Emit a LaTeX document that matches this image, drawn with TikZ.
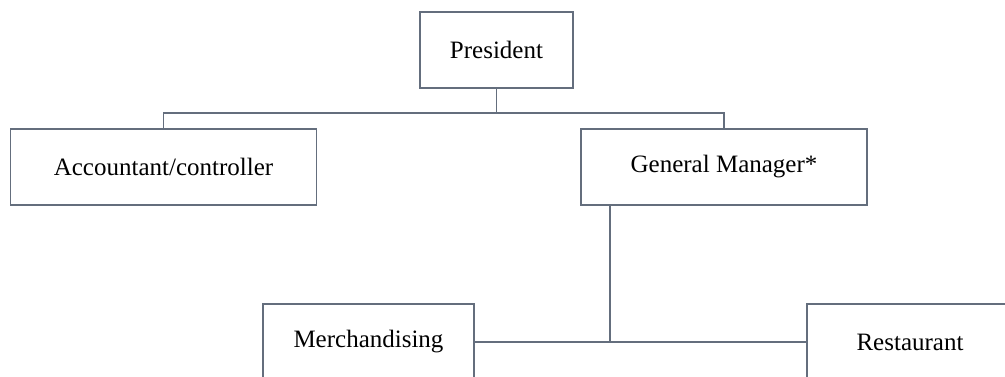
\documentclass[tikz,border=0pt]{standalone}
\usepackage{fontspec}
\setmainfont{Liberation Serif}
\definecolor{linec}{RGB}{100,110,125}
\begin{document}
\begin{tikzpicture}[x=1pt,y=-1pt,
  box/.style={draw=linec,line width=1.3pt,fill=white,rectangle,inner sep=0pt,minimum height=76pt,font=\fontsize{25}{30}\selectfont},
  conn/.style={draw=linec,line width=1.3pt}]
\useasboundingbox (0,0) rectangle (1005,376);
\clip (0,0) rectangle (1005,376);
\node[box,minimum width=153pt] (pres) at (496.5,50) {President};
\node[box,minimum width=306pt] (acct) at (163.5,167) {Accountant/controller};
\node[box,minimum width=286pt] (gm) at (724,167) {General Manager*};
\node[box,minimum width=211pt] (merch) at (368.5,342) {Merchandising};
\node[box,minimum width=206pt] (rest) at (910,342) {Restaurant};
\coordinate (bus) at (496.5,113);
\coordinate (j) at (610,342);
\draw[conn] (pres.south) -- (bus);
\draw[conn] (bus) -| (acct.north);
\draw[conn] (bus) -| (gm.north);
\draw[conn] (gm.south -| j) -- (j);
\draw[conn] (merch.east) -- (j);
\draw[conn] (j) -- (rest.west);
\end{tikzpicture}
\end{document}
